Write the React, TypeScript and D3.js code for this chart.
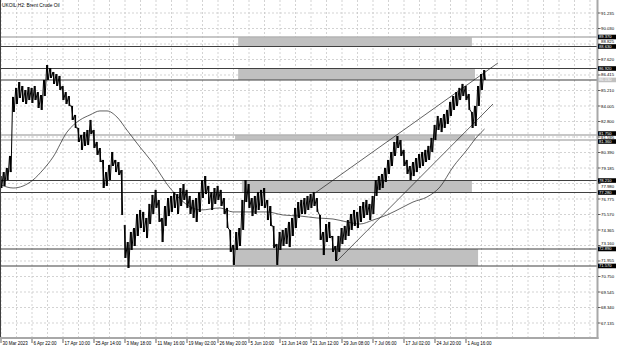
import React from 'react';
import * as d3 from 'd3';

const title = 'UKOIL,H2: Brent Crude Oil';

const barHigh = [
  78.56, 78.87, 79.19, 80.12, 84.71, 85.41, 85.87, 85.56, 85.25, 85.48,
  85.41, 85.56, 85.09, 84.86, 86.03, 87.19, 86.96, 86.65, 86.49, 86.34,
  85.56, 85.09, 84.78, 84.01, 83.31, 82.30, 81.75, 81.98, 82.14, 82.92,
  82.14, 81.21, 80.74, 79.81, 78.87, 79.42, 80.43, 79.81, 79.65, 79.03,
  74.75, 73.43, 74.21, 74.52, 75.61, 75.92, 75.77, 75.30, 76.39, 77.09,
  77.48, 76.70, 75.30, 76.23, 76.85, 77.01, 77.32, 77.16, 77.63, 77.94,
  77.48, 77.01, 76.70, 76.85, 77.32, 78.25, 78.56, 77.79, 77.32, 77.63,
  77.79, 77.48, 76.85, 76.08, 74.37, 73.20, 74.21, 74.52, 76.70, 78.25,
  77.94, 76.85, 77.01, 77.32, 77.48, 77.63, 76.70, 76.23, 74.68, 73.28,
  74.21, 74.37, 74.52, 74.99, 75.30, 76.08, 76.54, 76.70, 76.85, 77.01,
  77.16, 77.32, 76.85, 75.53, 74.21, 74.83, 74.99, 73.90, 73.12, 73.90,
  74.52, 74.68, 75.14, 75.61, 75.92, 75.77, 76.23, 76.54, 76.70, 76.39,
  77.01, 78.25, 78.56, 78.72, 79.19, 79.81, 80.43, 81.21, 81.67, 81.36,
  80.59, 79.81, 79.34, 79.65, 79.96, 80.27, 80.43, 80.59, 80.90, 81.52,
  82.53, 83.23, 83.07, 83.38, 83.70, 84.32, 84.78, 85.09, 85.41, 85.72,
  85.56, 84.94, 83.54, 84.01, 85.56, 86.49, 86.80,
];

const barLow = [
  77.63, 77.79, 78.25, 78.87, 83.54, 84.16, 84.63, 84.32, 84.16, 84.47,
  84.24, 84.47, 83.85, 83.70, 84.78, 86.03, 86.18, 85.72, 85.56, 85.25,
  84.47, 84.16, 84.01, 82.92, 82.30, 81.21, 80.59, 80.90, 80.97, 81.83,
  80.74, 80.20, 79.65, 77.63, 77.79, 78.25, 79.34, 78.87, 78.64, 75.53,
  72.19, 71.41, 72.81, 73.12, 73.90, 74.52, 74.21, 73.74, 74.83, 75.61,
  76.08, 74.99, 73.43, 74.68, 75.45, 75.77, 76.08, 75.61, 76.23, 76.70,
  76.08, 75.61, 75.30, 74.99, 75.77, 76.85, 77.16, 76.39, 75.92, 76.39,
  76.70, 76.23, 75.61, 74.52, 72.66, 71.65, 72.81, 73.12, 74.37, 76.54,
  76.08, 75.45, 75.61, 75.92, 76.23, 76.08, 75.14, 74.68, 72.97, 71.65,
  72.81, 73.12, 73.28, 73.04, 73.90, 74.52, 75.30, 75.61, 75.61, 75.92,
  76.08, 76.23, 75.77, 73.59, 72.42, 73.43, 73.74, 72.66, 71.96, 72.66,
  73.28, 73.59, 73.90, 74.37, 74.68, 74.52, 74.99, 75.30, 75.53, 75.14,
  75.61, 77.01, 77.48, 77.63, 78.10, 78.72, 79.34, 80.12, 80.74, 80.12,
  79.34, 78.72, 78.25, 78.56, 78.87, 79.19, 79.34, 79.65, 79.81, 80.43,
  81.36, 82.14, 81.98, 82.30, 82.61, 83.23, 83.70, 84.01, 84.47, 84.78,
  84.47, 83.70, 82.30, 82.45, 84.01, 85.25, 86.03,
];

const dateLabelIdx = [0, 10, 20, 30, 40, 50, 60, 70, 80, 90, 100, 110, 120, 130, 140, 150];
const dateLabels = [
  '30 Mar 2023', '6 Apr 22:00', '17 Apr 10:00', '25 Apr 14:00', '3 May 18:00',
  '11 May 16:00', '19 May 02:00', '26 May 20:00', '5 Jun 10:00', '13 Jun 14:00',
  '21 Jun 12:00', '29 Jun 08:00', '7 Jul 06:00', '17 Jul 02:00', '24 Jul 20:00', '1 Aug 16:00',
];

const priceTicks = [
  '91.235', '90.030', '88.825', '87.620', '86.415', '85.210', '84.005', '82.800',
  '81.595', '80.390', '79.185', '77.980', '76.775', '75.570', '74.365', '73.160',
  '71.955', '70.750', '69.545', '68.340', '67.135',
];

const maIdx = [0, 3.9, 10.3, 13.5, 16.8, 21.3, 25.5, 28.7, 31.9, 34.2, 37.4, 40.6, 44.8, 49, 54.5,
  64.5, 70.6, 74.8, 80.3, 85.8, 91, 96.5, 101.9, 107.1, 111.6, 115.8, 120, 124.5, 129.7, 132.9,
  137.4, 141.6, 145.8, 150.3, 153.5, 156];
const maVal = [77.86, 77.63, 78.25, 79.03, 80.04, 81.98, 82.92, 83.31, 83.62, 83.62, 83.15, 82.14,
  80.82, 79.57, 77.63, 75.92, 76.08, 75.77, 75.77, 75.77, 75.53, 75.45, 75.30, 75.22, 74.99, 74.83,
  75.14, 75.53, 76.15, 76.54, 76.93, 77.71, 79.26, 80.59, 81.60, 82.22];

const levelPrices = [89.37, 88.63, 86.92, 86.03, 81.75, 81.36, 78.21, 77.28, 72.89, 71.57];
const levelTone = ['light', 'dark', 'dark', 'bid', 'light', 'light', 'dark', 'dark', 'dark', 'dark'];

const zoneStart = [76.5, 76.5, 75.5, 77.7, 75.5];
const zoneEnd = [151.9, 152.9, 152.9, 151.9, 153.9];
const zoneTop = [89.37, 86.92, 81.75, 78.21, 72.89];
const zoneBottom = [88.63, 86.03, 81.36, 77.28, 71.57];

const trendFromIdx = [101.3, 108.4];
const trendFromPrice = [77.24, 71.96];
const trendToIdx = [160.3, 158.7];
const trendToPrice = [87.35, 84.16];

const W = 620;
const H = 348;
const PLOT_R = 597;
const PLOT_B = 338;
const FONT = 'Liberation Sans, Arial, sans-serif';

export default function App() {
  const x = d3.scaleLinear().domain([0, 156]).range([1, 484.6]);
  const y = d3.scaleLinear().domain([67.135, 91.235]).range([323, 13]);

  const gridX: number[] = [];
  for (let k = 0; x(k * 5) < PLOT_R - 2; k++) gridX.push(x(k * 5));

  // price bars: jagged saw-tooth through highs and lows
  const segs: string[] = [];
  let cur = '';
  for (let i = 0; i < barHigh.length; i++) {
    const h = y(barHigh[i]);
    const l = y(barLow[i]);
    const xi = x(i);
    if (i > 0 && barLow[i - 1] > barHigh[i] + 0.3) {
      segs.push(cur);
      cur = '';
    }
    cur += (cur ? 'L' : 'M') + (xi - 0.78) + ',' + h + 'L' + (xi + 0.78) + ',' + l;
  }
  segs.push(cur);

  const maLine = d3
    .line<number>()
    .x((_, i) => x(maIdx[i]))
    .y((v) => y(v))
    .curve(d3.curveMonotoneX)(maVal) as string;

  const levelColor = (t: string) => (t === 'light' ? '#b4b4b4' : '#404040');
  const boxColor = (t: string) => (t === 'bid' ? '#c0c0c0' : '#000000');
  const boxH = 4.6;

  // level label positions, spread apart slightly when two are too close
  const BOX_GAP = 8;
  const order = levelPrices.map((_, i) => i).sort((a, b) => y(levelPrices[a]) - y(levelPrices[b]));
  const boxYs: number[] = levelPrices.map((p) => y(p));
  for (let k = 1; k < order.length; k++) {
    const a = order[k - 1];
    const b = order[k];
    const d = boxYs[b] - boxYs[a];
    if (d < BOX_GAP) {
      const push = (BOX_GAP - d) / 2;
      boxYs[a] -= push;
      boxYs[b] += push;
    }
  }

  // nudge tick labels that would sit under a level box
  const MIN_GAP = 5.8;
  const tickLabelY = (t: string) => {
    const ty = y(+t);
    const near = boxYs.filter((b) => Math.abs(b - ty) < MIN_GAP).sort((a, b) => Math.abs(a - ty) - Math.abs(b - ty));
    if (near.length === 0) return ty;
    const b = near[0];
    let cand = ty <= b ? b - MIN_GAP : b + MIN_GAP;
    const clash = boxYs.find((o) => o !== b && Math.abs(o - cand) < MIN_GAP);
    if (clash !== undefined) cand = (b + clash) / 2;
    return cand;
  };

  return (
    <svg width={W} height={H} style={{ position: 'absolute', left: 0, top: 0, background: '#fff' }}
      fontFamily={FONT}>
      <rect x={0} y={0} width={W} height={H} fill="#ffffff" />
      {/* grid */}
      <g stroke="#c8c8c8" strokeWidth={0.8} strokeDasharray="2 2">
        {gridX.map((gx, i) => (
          <line key={'gx' + i} x1={gx} x2={gx} y1={0} y2={PLOT_B} />
        ))}
        {priceTicks.map((t, i) => (
          <line key={'gy' + i} x1={0} x2={PLOT_R} y1={y(+t)} y2={y(+t)} />
        ))}
      </g>
      {/* zones */}
      <g fill="#c0c0c0">
        {zoneStart.map((s, i) => (
          <rect key={'z' + i} x={x(s)} width={x(zoneEnd[i]) - x(s)} y={y(zoneTop[i])}
            height={y(zoneBottom[i]) - y(zoneTop[i])} />
        ))}
      </g>
      {/* levels */}
      {levelPrices.map((p, i) => (
        <line key={'lv' + i} x1={0} x2={PLOT_R} y1={y(p)} y2={y(p)}
          stroke={levelColor(levelTone[i])} strokeWidth={levelTone[i] === 'light' ? 1.6 : 1.1} />
      ))}
      {/* moving average */}
      <path d={maLine} fill="none" stroke="#202020" strokeWidth={0.7} />
      {/* trend lines */}
      {trendFromIdx.map((s, i) => (
        <line key={'tr' + i} x1={x(s)} y1={y(trendFromPrice[i])} x2={x(trendToIdx[i])} y2={y(trendToPrice[i])}
          stroke="#202020" strokeWidth={0.7} />
      ))}
      {/* bars */}
      <g fill="#000">
        {barHigh.map((h, i) => (
          <rect key={'r' + i} x={x(i) - 0.7} width={1.4} y={y(h)} height={y(barLow[i]) - y(h)} />
        ))}
      </g>
      {segs.map((d, i) => (
        <path key={'b' + i} d={d} fill="none" stroke="#000" strokeWidth={1} />
      ))}
      {/* frame */}
      <line x1={0.5} x2={0.5} y1={0} y2={PLOT_B} stroke="#404040" strokeWidth={1} />
      <line x1={PLOT_R + 0.5} x2={PLOT_R + 0.5} y1={0} y2={PLOT_B + 1} stroke="#a8a8a8" strokeWidth={2} />
      <line x1={0} x2={PLOT_R + 1.5} y1={PLOT_B} y2={PLOT_B} stroke="#a8a8a8" strokeWidth={2} />
      {/* title */}
      <text x={2} y={7} fontSize={4.8} fill="#000">{title}</text>
      {/* price axis */}
      {priceTicks.map((t, i) => (
        <g key={'pt' + i}>
          <line x1={PLOT_R + 1} x2={PLOT_R + 3.5} y1={y(+t)} y2={y(+t)} stroke="#000" strokeWidth={0.6} />
          <text x={PLOT_R + 4} y={tickLabelY(t) + 1.5} fontSize={4.3} fill="#000">{t}</text>
        </g>
      ))}
      {levelPrices.map((p, i) => (
        <g key={'lb' + i}>
          <rect x={PLOT_R + 1} y={boxYs[i] - boxH / 2} width={18} height={boxH} fill={boxColor(levelTone[i])} />
          <text x={PLOT_R + 2} y={boxYs[i] + 1.5} fontSize={4.1} fill="#fff">{p.toFixed(3)}</text>
        </g>
      ))}
      {/* date axis */}
      {dateLabelIdx.map((di, i) => (
        <g key={'dt' + i}>
          <line x1={x(di)} x2={x(di)} y1={PLOT_B + 1} y2={PLOT_B + 5} stroke="#000" strokeWidth={0.6} />
          <text x={x(di) + 1.5} y={PLOT_B + 6.5} fontSize={4.5} fill="#000">{dateLabels[i]}</text>
        </g>
      ))}
    </svg>
  );
}
